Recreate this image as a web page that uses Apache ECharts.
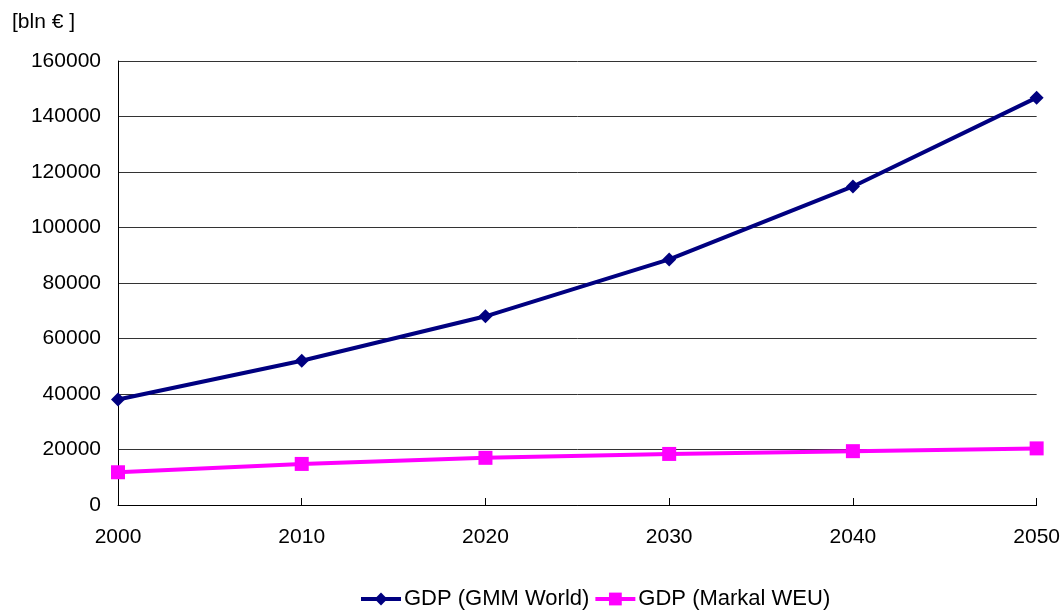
<!DOCTYPE html>
<html><head><meta charset="utf-8">
<script src="https://cdn.jsdelivr.net/npm/echarts@6/dist/echarts.min.js"></script>
<style>html,body{margin:0;padding:0;background:#fff}#c{width:1063px;height:610px}</style>
</head><body><div id="c"></div>
<script>
const years = ['2000','2010','2020','2030','2040','2050'];
const gmmWorld = [38000, 52000, 68000, 88500, 114800, 146800];
const markalWEU = [11800, 14800, 17000, 18400, 19400, 20400];
const seriesNames = ['GDP (GMM World)', 'GDP (Markal WEU)'];
const unitLabel = '[bln € ]';

const font = 'Liberation Sans, Arial, sans-serif';
const fs = 21;
const chart = echarts.init(document.getElementById('c'));
chart.setOption({
  animation: false,
  grid: {left: 118, right: 26, top: 61, bottom: 105},
  graphic: [{type: 'text', left: 12, top: 12, style: {text: unitLabel, font: fs + 'px ' + font, fill: '#000'}}],
  legend: {
    bottom: -5, left: 354, itemWidth: 40, itemHeight: 16, itemGap: 4,
    lineStyle: {width: 4},
    textStyle: {fontFamily: font, fontSize: 22, color: '#000', padding: [0, 0, 0, -2]},
    data: seriesNames
  },
  xAxis: {
    type: 'category', data: years, boundaryGap: false,
    axisLine: {lineStyle: {color: '#000', width: 1}},
    axisTick: {inside: true, length: 7, lineStyle: {color: '#000'}},
    axisLabel: {fontFamily: font, fontSize: fs, color: '#000', margin: 22, formatter: v => v}
  },
  yAxis: {
    type: 'value', min: 0, max: 160000, interval: 20000,
    axisLine: {show: true, lineStyle: {color: '#000', width: 1}},
    axisTick: {show: false},
    splitLine: {lineStyle: {color: '#333', width: 1}},
    axisLabel: {fontFamily: font, fontSize: fs, color: '#000', margin: 17, formatter: v => String(v)}
  },
  series: [
    {name: seriesNames[0], type: 'line', data: gmmWorld, symbol: 'diamond', symbolSize: 14,
     lineStyle: {color: '#000080', width: 4}, itemStyle: {color: '#000080'}},
    {name: seriesNames[1], type: 'line', data: markalWEU, symbol: 'rect', symbolSize: 14,
     lineStyle: {color: '#ff00ff', width: 4}, itemStyle: {color: '#ff00ff'}}
  ]
});
</script></body></html>
